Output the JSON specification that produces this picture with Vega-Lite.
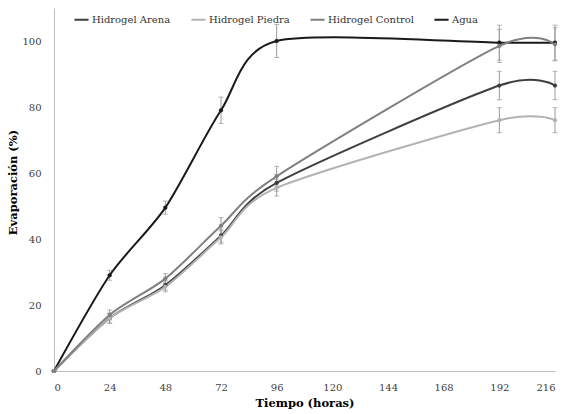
{
  "$schema": "https://vega.github.io/schema/vega-lite/v6.json",
  "width": 501,
  "height": 363,
  "autosize": {"type": "none"},
  "padding": {"left": 54, "top": 8, "right": 12, "bottom": 43},
  "background": "white",
  "config": {
    "view": {"stroke": null},
    "font": "DejaVu Serif",
    "axis": {"grid": false, "ticks": false, "domainColor": "#bfbfbf", "labelColor": "#404040", "labelFont": "DejaVu Serif", "labelFontSize": 10, "titleFont": "DejaVu Serif", "titleFontSize": 11.5, "titleFontWeight": "bold", "titleColor": "#000000"},
    "legend": {"labelFont": "DejaVu Serif"}
  },
  "data": {"values": [
    {"serie": "Agua", "t": 0, "val": 0, "err": 0},
    {"serie": "Agua", "t": 24, "val": 29, "err": 1.5},
    {"serie": "Agua", "t": 48, "val": 49.5, "err": 2},
    {"serie": "Agua", "t": 72, "val": 79, "err": 4},
    {"serie": "Agua", "t": 96, "val": 100, "err": 5},
    {"serie": "Agua", "t": 192, "val": 99.5, "err": 5.3},
    {"serie": "Agua", "t": 216, "val": 99.5, "err": 5.3},
    {"serie": "Hidrogel Arena", "t": 0, "val": 0, "err": 0},
    {"serie": "Hidrogel Arena", "t": 24, "val": 16, "err": 1.5},
    {"serie": "Hidrogel Arena", "t": 48, "val": 26, "err": 1.5},
    {"serie": "Hidrogel Arena", "t": 72, "val": 41, "err": 2},
    {"serie": "Hidrogel Arena", "t": 96, "val": 57, "err": 2.5},
    {"serie": "Hidrogel Arena", "t": 192, "val": 86.5, "err": 4.3},
    {"serie": "Hidrogel Arena", "t": 216, "val": 86.5, "err": 4.3},
    {"serie": "Hidrogel Piedra", "t": 0, "val": 0, "err": 0},
    {"serie": "Hidrogel Piedra", "t": 24, "val": 16, "err": 1.5},
    {"serie": "Hidrogel Piedra", "t": 48, "val": 25.5, "err": 1.5},
    {"serie": "Hidrogel Piedra", "t": 72, "val": 40.5, "err": 2},
    {"serie": "Hidrogel Piedra", "t": 96, "val": 55.5, "err": 2.5},
    {"serie": "Hidrogel Piedra", "t": 192, "val": 76, "err": 3.8},
    {"serie": "Hidrogel Piedra", "t": 216, "val": 76, "err": 3.8},
    {"serie": "Hidrogel Control", "t": 0, "val": 0, "err": 0},
    {"serie": "Hidrogel Control", "t": 24, "val": 17, "err": 1.5},
    {"serie": "Hidrogel Control", "t": 48, "val": 28, "err": 1.5},
    {"serie": "Hidrogel Control", "t": 72, "val": 44, "err": 2.5},
    {"serie": "Hidrogel Control", "t": 96, "val": 59, "err": 3},
    {"serie": "Hidrogel Control", "t": 192, "val": 98.5, "err": 5},
    {"serie": "Hidrogel Control", "t": 216, "val": 99, "err": 5}
  ]},
  "encoding": {
    "x": {"field": "t", "type": "quantitative", "title": "Tiempo (horas)", "scale": {"domain": [0, 216], "nice": false}, "axis": {"values": [0, 24, 48, 72, 96, 120, 144, 168, 192, 216], "labelPadding": 11, "titlePadding": 5}},
    "y": {"field": "val", "type": "quantitative", "title": "Evaporación (%)", "scale": {"domain": [0, 110], "nice": false}, "axis": {"values": [0, 20, 40, 60, 80, 100], "labelPadding": 13, "titleX": -36, "titleY": 174}}
  },
  "layer": [
    {
      "mark": {"type": "errorbar", "ticks": {"size": 5}, "color": "#9a9a9a", "thickness": 1},
      "encoding": {
        "yError": {"field": "err"},
        "detail": {"field": "serie"}
      }
    },
    {
      "mark": {"type": "line", "interpolate": "cardinal", "tension": 0.2, "strokeWidth": 2},
      "encoding": {
        "color": {"field": "serie", "type": "nominal", "title": null,
          "scale": {"domain": ["Hidrogel Arena", "Hidrogel Piedra", "Hidrogel Control", "Agua"], "range": ["#3f3f3f", "#b3b3b3", "#808080", "#1a1a1a"]},
          "legend": {"orient": "none", "legendX": 19, "legendY": 3, "direction": "horizontal", "symbolType": "stroke", "symbolStrokeWidth": 2, "symbolSize": 200, "labelFont": "DejaVu Serif", "labelFontSize": 10, "labelColor": "#333333", "columnPadding": 16, "labelOffset": 2}
        }
      }
    },
    {
      "mark": {"type": "point", "filled": true, "size": 18, "opacity": 1},
      "encoding": {
        "color": {"field": "serie", "type": "nominal", "legend": null}
      }
    }
  ]
}
